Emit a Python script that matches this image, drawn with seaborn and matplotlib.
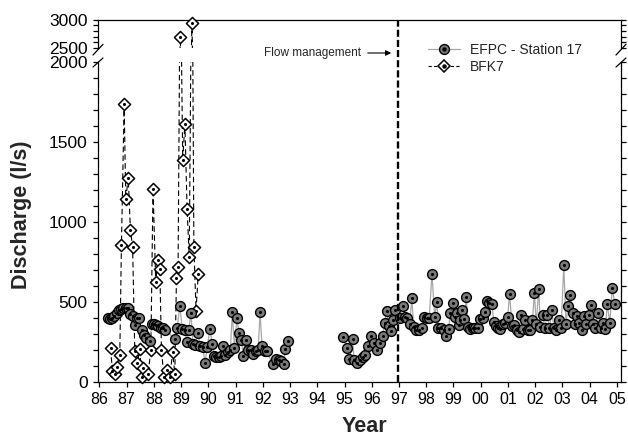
import numpy as np
import pandas as pd
import seaborn as sns
import matplotlib.pyplot as plt
from matplotlib.lines import Line2D
from matplotlib.patches import FancyArrowPatch
from matplotlib.legend_handler import HandlerTuple

sns.set_theme(style="ticks")
plt.rcParams['font.family'] = ['Liberation Sans', 'DejaVu Sans']

# EFPC - Station 17 (year as 86.xx ... 104.xx, discharge l/s)
efpc_year = [86.33, 86.40, 86.47, 86.55, 86.63, 86.71, 86.79, 86.88, 86.97, 87.06,
             87.14, 87.22, 87.30, 87.38, 87.45, 87.55, 87.64, 87.73, 87.85, 87.93,
             88.01, 88.09, 88.17, 88.25, 88.33, 88.41, 88.78, 88.86, 88.95, 89.05,
             89.14, 89.22, 89.28, 89.36, 89.44, 89.52, 89.62, 89.70, 89.79, 89.88,
             89.96, 90.06, 90.14, 90.22, 90.30, 90.38, 90.46, 90.55, 90.63, 90.72,
             90.81, 90.88, 90.96, 91.05, 91.13, 91.21, 91.28, 91.37, 91.46, 91.55,
             91.64, 91.74, 91.83, 91.90, 91.97, 92.07, 92.15, 92.37, 92.48, 92.58,
             92.68, 92.76, 92.83, 92.91,
             94.96, 95.08, 95.18, 95.30, 95.35, 95.47, 95.57, 95.67, 95.77, 95.86,
             95.96, 96.08, 96.18, 96.30, 96.40, 96.48, 96.55, 96.62, 96.72, 96.79,
             96.87, 97.02, 97.14, 97.23, 97.31, 97.39, 97.47, 97.54, 97.63, 97.73,
             97.84, 97.93, 98.02, 98.11, 98.21, 98.31, 98.39, 98.45, 98.55, 98.64,
             98.74, 98.82, 98.88, 98.98, 99.04, 99.13, 99.19, 99.25, 99.32, 99.40,
             99.47, 99.53, 99.62, 99.72, 99.80, 99.89, 99.99, 100.08, 100.14, 100.23,
             100.32, 100.41, 100.48, 100.56, 100.64, 100.72, 100.82, 100.90, 100.99, 101.06,
             101.15, 101.24, 101.33, 101.41, 101.48, 101.55, 101.64, 101.73, 101.82, 101.90,
             101.97, 102.04, 102.13, 102.19, 102.28, 102.35, 102.44, 102.52, 102.62, 102.68,
             102.77, 102.87, 102.95, 103.05, 103.13, 103.21, 103.29, 103.38, 103.45, 103.54,
             103.62, 103.71, 103.78, 103.88, 103.97, 104.05, 104.13, 104.21, 104.31, 104.40,
             104.50, 104.58, 104.64, 104.74, 104.83, 104.92]
efpc_q = [395, 392, 395, 410, 428, 445, 455, 460, 462, 458,
          420, 410, 355, 400, 396, 322, 292, 272, 255, 362,
          360, 352, 345, 338, 332, 325, 265, 335, 472, 330,
          325, 245, 322, 430, 235, 228, 302, 222, 218, 118,
          215, 330, 232, 160, 155, 153, 158, 225, 168, 182,
          200, 432, 212, 395, 302, 262, 160, 262, 200, 198,
          172, 190, 200, 432, 222, 192, 188, 108, 138, 135,
          128, 112, 202, 252,
          277, 210, 140, 264, 135, 118, 135, 152, 166, 220,
          285, 244, 198, 240, 285, 369, 444, 348, 313, 385,
          448, 395, 472, 405, 395, 359, 520, 343, 322, 322,
          332, 405, 395, 399, 676, 405, 499, 332, 338, 322,
          284, 328, 430, 493, 405, 426, 353, 384, 447, 389,
          530, 343, 326, 332, 338, 332, 389, 395, 436, 505,
          493, 484, 374, 347, 338, 326, 363, 368, 405, 547,
          347, 353, 322, 311, 416, 326, 384, 322, 322, 384,
          551, 359, 582, 343, 416, 338, 416, 338, 447, 332,
          322, 384, 332, 728, 363, 472, 541, 426, 363, 409,
          368, 322, 409, 363, 416, 478, 359, 338, 426, 332,
          368, 326, 484, 368, 588, 484]
# record gap 1993-1995: points from 94.96 on form a second run
efpc_gap_start = 94.96

# BFK7
bfk_year = [86.41, 86.48, 86.57, 86.63, 86.75, 86.81, 86.91, 86.97, 87.06, 87.14,
            87.22, 87.30, 87.39, 87.49, 87.55, 87.61, 87.79, 87.89, 87.97, 88.07,
            88.14, 88.22, 88.28, 88.37, 88.47, 88.59, 88.69, 88.77, 88.83, 88.89,
            88.97, 89.06, 89.14, 89.22, 89.30, 89.40, 89.47, 89.55, 89.63]
bfk_q = [207, 68, 47, 93, 166, 853, 1735, 1141, 1276, 947,
         843, 193, 114, 201, 30, 82, 47, 197, 1207, 620,
         759, 707, 197, 30, 72, 30, 186, 47, 645, 718,
         2690, 1389, 1614, 1082, 780, 2940, 842, 444, 676]

year_ticks = list(range(86, 106))
year_labels = ["86", "87", "88", "89", "90", "91", "92", "93", "94", "95", "96",
               "97", "98", "99", "00", "01", "02", "03", "04", "05"]

efpc = pd.DataFrame({"year": efpc_year, "q": efpc_q})
efpc["run"] = np.where(efpc.year >= efpc_gap_start, 1, 0)
bfk = pd.DataFrame({"year": bfk_year, "q": bfk_q})

W, H = 628, 442
fig = plt.figure(figsize=(W / 100, H / 100), dpi=100)
L, R = 98, 621
ax_low = fig.add_axes([L / W, (H - 381.5) / H, (R - L) / W, (381.5 - 62) / H])
ax_up = fig.add_axes([L / W, (H - 48) / H, (R - L) / W, (48 - 19.7) / H])
ax_up.patch.set_alpha(0)

gray = "#7a7a7a"
for ax, lo, hi in [(ax_low, 0, 2000), (ax_up, 2500, 3000)]:
    sns.lineplot(data=bfk, x="year", y="q", ax=ax, color="black", lw=0.8,
                 linestyle=(0, (5, 3)), sort=False, estimator=None, zorder=2)
    sns.lineplot(data=efpc, x="year", y="q", units="run", ax=ax, color="#a8a8a8",
                 lw=0.9, sort=False, estimator=None, zorder=3)
    b = bfk[(bfk.q >= lo) & (bfk.q <= hi)]
    e = efpc[(efpc.q >= lo) & (efpc.q <= hi)]
    sns.scatterplot(data=b, x="year", y="q", ax=ax, marker="D", s=38, color="white",
                    edgecolor="black", linewidth=1.1, clip_on=False, zorder=4)
    sns.scatterplot(data=b, x="year", y="q", ax=ax, marker="o", s=5, color="black",
                    linewidth=0, clip_on=False, zorder=5)
    sns.scatterplot(data=e, x="year", y="q", ax=ax, marker="o", s=50, color=gray,
                    edgecolor="black", linewidth=1.0, clip_on=False, zorder=6)
    sns.scatterplot(data=e, x="year", y="q", ax=ax, marker="o", s=5, color="black",
                    linewidth=0, clip_on=False, zorder=7)
    ax.set_xlim(85.95, 105.15)
    ax.set_ylim(lo, hi)
    ax.set_xlabel("")
    ax.set_ylabel("")
    ax.set_yticks(np.arange(lo, hi + 1, 500))
    ax.set_yticks(np.arange(lo, hi + 1, 100), minor=True)
    ax.tick_params(axis="y", which="both", left=True, right=True, direction="out",
                   length=3.5, width=0.9, labelsize=12.5, pad=4, colors="black")
    for s in ax.spines.values():
        s.set_linewidth(0.9)
        s.set_color("black")

ax_low.spines["top"].set_visible(False)
ax_up.spines["bottom"].set_visible(False)
ax_low.set_xticks(year_ticks)
ax_low.set_xticklabels(year_labels)
ax_low.tick_params(axis="x", direction="out", length=3.5, width=0.9, labelsize=11.5,
                   pad=4, colors="black")
ax_up.tick_params(axis="x", which="both", bottom=False, top=False, labelbottom=False)

# flow management line, through both panels
ax_low.axvline(96.95, ymin=0, ymax=(381.5 - 19.7) / (381.5 - 62), color="black",
               lw=1.7, linestyle=(0, (3, 1.3)), clip_on=False, zorder=8)

def px(x, y):
    return x / W, (H - y) / H

for x0 in (L, R):
    for (ya, yb) in [(55, 44.3), (67, 58)]:
        (xa, ya_), (xb, yb_) = px(x0 - 5, ya), px(x0 + 5, yb)
        fig.add_artist(Line2D([xa, xb], [ya_, yb_], color="black", lw=0.9))

fig.text(*px(361, 53), "Flow management", ha="right", va="center", fontsize=8.5)
fig.add_artist(FancyArrowPatch(px(365, 53), px(394, 53), transform=fig.transFigure,
                               arrowstyle="-|>", mutation_scale=8, color="black", lw=0.8))

h_efpc = (Line2D([], [], color="#a8a8a8", lw=0.9, marker="o", ms=7.1, mfc=gray,
                 mec="black", mew=1.0),
          Line2D([], [], ls="none", marker="o", ms=2.2, color="black"))
h_bfk = (Line2D([], [], color="black", lw=0.8, ls=(0, (3, 2)), marker="D", ms=6,
                mfc="white", mec="black", mew=1.1),
         Line2D([], [], ls="none", marker="o", ms=2.2, color="black"))
fig.legend([h_efpc, h_bfk], ["EFPC - Station 17", "BFK7"],
           handler_map={tuple: HandlerTuple(ndivide=1)},
           loc="upper left", bbox_to_anchor=px(428, 43), frameon=False, fontsize=10,
           handlelength=2.3, handletextpad=0.7, labelspacing=0.2, borderpad=0,
           borderaxespad=0)

fig.text(*px(22, 215), "Discharge (l/s)", rotation=90, ha="center", va="center",
         fontsize=15.5, fontweight="bold")
fig.text(*px(364, 426), "Year", ha="center", va="center", fontsize=15.5,
         fontweight="bold")

fig.savefig("out.png", dpi=100)
